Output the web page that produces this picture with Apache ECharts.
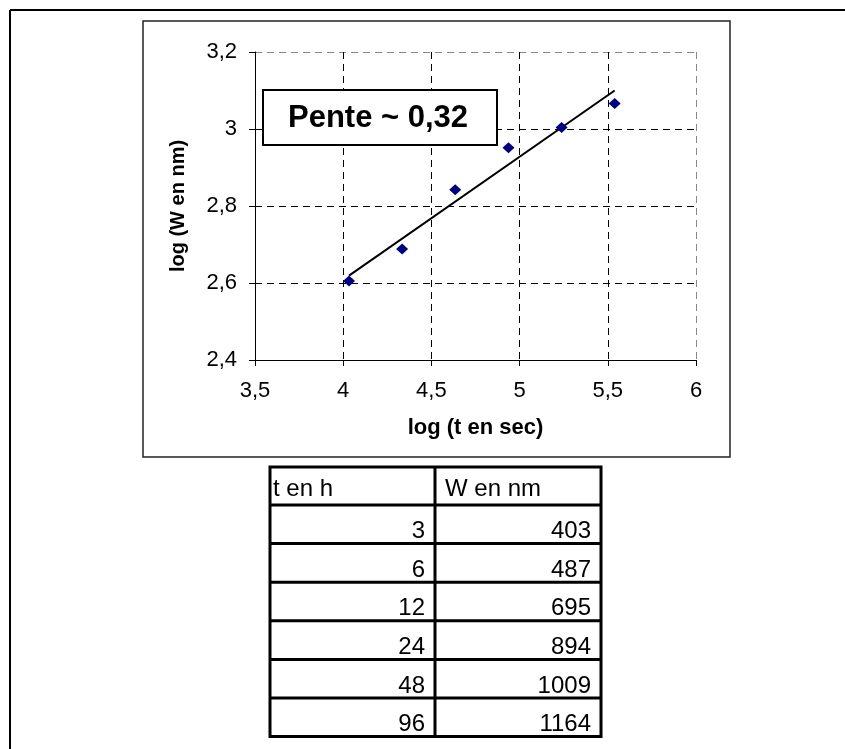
<!DOCTYPE html>
<html>
<head>
<meta charset="utf-8">
<script src="https://cdn.jsdelivr.net/npm/echarts@6/dist/echarts.min.js"></script>
<style>
html,body{margin:0;padding:0;background:#fff;}
#chart{width:845px;height:749px;}
</style>
</head>
<body>
<div id="chart"></div>
<script>
// ---- data ----
const tHours = [3, 6, 12, 24, 48, 96];
const wNm = [403, 487, 695, 894, 1009, 1164];
const logT = [4.033, 4.334, 4.635, 4.937, 5.238, 5.539];
const logW = [2.605, 2.688, 2.842, 2.951, 3.004, 3.066];
const trendX = [4.033, 5.539];
const trendY = [2.619, 3.100];
const tableHeaders = ['t en h', 'W en nm'];
const annotation = 'Pente ~ 0,32';
const xTitle = 'log (t en sec)';
const yTitle = 'log (W en nm)';

const FONT = '"Liberation Sans", Arial, Helvetica, sans-serif';

const chart = echarts.init(document.getElementById('chart'), null, {renderer: 'canvas'});

function fmt(v) { return String(+(+v).toFixed(2)).replace('.', ','); }

// table graphics
const tbl = {left: 270, mid: 435, right: 601, top: 467, headerH: 38, rowH: 38.6, lw: 3};
const graphics = [];
// outer frame
graphics.push({type: 'line', z: 1, shape: {x1: 10, y1: 10, x2: 845, y2: 10}, style: {stroke: '#000', lineWidth: 2}});
graphics.push({type: 'line', z: 1, shape: {x1: 10, y1: 10, x2: 10, y2: 749}, style: {stroke: '#000', lineWidth: 2}});
// chart area box
graphics.push({type: 'rect', z: 0, shape: {x: 143, y: 21, width: 587, height: 436}, style: {fill: 'none', stroke: '#222', lineWidth: 1.5}});
// annotation box
graphics.push({type: 'rect', z: 100, shape: {x: 263, y: 90, width: 234, height: 55}, style: {fill: '#fff', stroke: '#000', lineWidth: 2}});
graphics.push({type: 'text', z: 101, style: {x: 378, y: 118, text: annotation, font: 'bold 31px ' + FONT, fill: '#000', textAlign: 'center', textVerticalAlign: 'middle'}});

const TFONT = '24px ' + FONT;
const nRows = tHours.length;
const tblBottom = tbl.top + tbl.headerH + nRows * tbl.rowH;
graphics.push({type: 'rect', z: 5, shape: {x: tbl.left, y: tbl.top, width: tbl.right - tbl.left, height: tblBottom - tbl.top}, style: {fill: 'none', stroke: '#000', lineWidth: tbl.lw}});
graphics.push({type: 'line', z: 5, shape: {x1: tbl.mid, y1: tbl.top, x2: tbl.mid, y2: tblBottom}, style: {stroke: '#000', lineWidth: tbl.lw}});
for (let i = 0; i < nRows; i++) {
  const y = tbl.top + tbl.headerH + i * tbl.rowH;
  graphics.push({type: 'line', z: 5, shape: {x1: tbl.left, y1: y, x2: tbl.right, y2: y}, style: {stroke: '#000', lineWidth: tbl.lw}});
}
graphics.push({type: 'text', z: 6, style: {x: tbl.left + 3, y: tbl.top + tbl.headerH - 4, text: tableHeaders[0], font: TFONT, fill: '#000', textAlign: 'left', textVerticalAlign: 'bottom'}});
graphics.push({type: 'text', z: 6, style: {x: tbl.mid + 10, y: tbl.top + tbl.headerH - 4, text: tableHeaders[1], font: TFONT, fill: '#000', textAlign: 'left', textVerticalAlign: 'bottom'}});
for (let i = 0; i < nRows; i++) {
  const yb = tbl.top + tbl.headerH + (i + 1) * tbl.rowH;
  graphics.push({type: 'text', z: 6, style: {x: tbl.mid - 10, y: yb, text: String(tHours[i]), font: TFONT, fill: '#000', textAlign: 'right', textVerticalAlign: 'bottom'}});
  graphics.push({type: 'text', z: 6, style: {x: tbl.right - 10, y: yb, text: String(wNm[i]), font: TFONT, fill: '#000', textAlign: 'right', textVerticalAlign: 'bottom'}});
}

const option = {
  backgroundColor: '#fff',
  animation: false,
  textStyle: {fontFamily: FONT},
  grid: {left: 255, right: 149, top: 52, bottom: 389, containLabel: false, show: false},
  xAxis: {
    type: 'value', min: 3.5, max: 6, interval: 0.5,
    name: xTitle, nameLocation: 'middle', nameGap: 57,
    nameTextStyle: {fontSize: 22, fontWeight: 'bold', color: '#000', fontFamily: FONT},
    axisLine: {show: true, onZero: false, lineStyle: {color: '#000', width: 1}},
    axisTick: {show: true, length: 6, lineStyle: {color: '#000'}},
    axisLabel: {fontSize: 22, color: '#000', margin: 20, formatter: fmt, fontFamily: FONT},
    splitLine: {show: true, lineStyle: {color: ['#000', '#000', '#000', '#000', '#000', '#888'], type: [7, 5], width: 1}}
  },
  yAxis: {
    type: 'value', min: 2.4, max: 3.2, interval: 0.2,
    name: yTitle, nameLocation: 'middle', nameGap: 67, nameRotate: 90,
    nameTextStyle: {fontSize: 20, fontWeight: 'bold', color: '#000', fontFamily: FONT},
    axisLine: {show: true, onZero: false, lineStyle: {color: '#000', width: 1}},
    axisTick: {show: true, length: 6, lineStyle: {color: '#000'}},
    axisLabel: {fontSize: 22, color: '#000', margin: 18, formatter: fmt, fontFamily: FONT},
    splitLine: {show: true, lineStyle: {color: ['#000', '#000', '#000', '#000', '#888'], type: [7, 5], width: 1}}
  },
  graphic: graphics,
  series: [
    {
      type: 'line', name: 'trend', z: 3,
      data: trendX.map((x, i) => [x, trendY[i]]),
      showSymbol: false, symbol: 'none',
      lineStyle: {color: '#000', width: 2}
    },
    {
      type: 'scatter', name: 'data', z: 4,
      data: logT.map((x, i) => [x, logW[i]]),
      symbol: 'diamond', symbolSize: [12, 11],
      itemStyle: {color: '#000080', opacity: 1}
    }
  ]
};
chart.setOption(option);
</script>
</body>
</html>
